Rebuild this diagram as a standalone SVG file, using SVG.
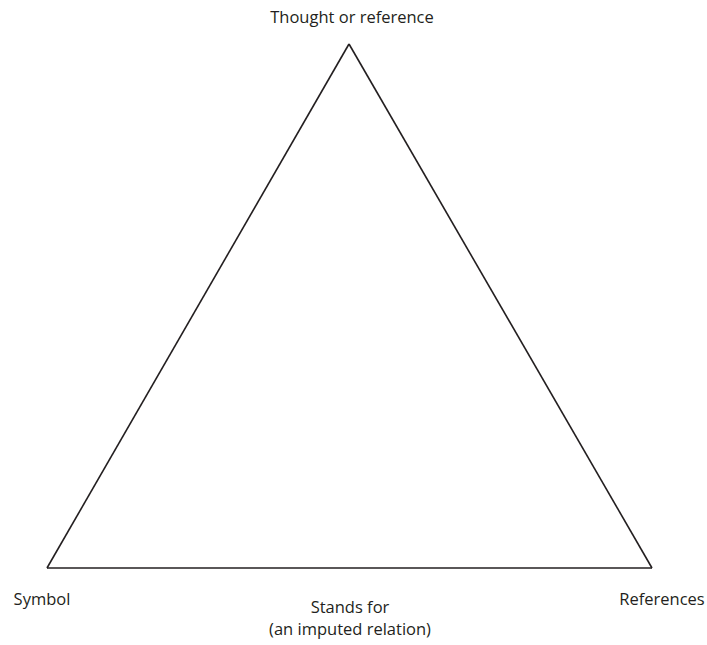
<svg xmlns="http://www.w3.org/2000/svg" width="707" height="645" viewBox="0 0 707 645">
<style>
text{font-family:"Open Sans","Noto Sans",sans-serif;font-size:16.5px;fill:#231f20}
.edge{fill:none;stroke:#231f20;stroke-width:1.6;stroke-linejoin:miter}
</style>
<rect width="707" height="645" fill="#fff"/>
<g id="connectors">
<path class="edge" d="M349,44 L47,568"/>
<path class="edge" d="M349,44 L652,568"/>
<path class="edge" d="M47,568 L652,568"/>
</g>
<g id="node-thought"><text x="352" y="23" text-anchor="middle">Thought or reference</text></g>
<g id="node-symbol"><text x="42" y="605" text-anchor="middle">Symbol</text></g>
<g id="node-references"><text x="662" y="605" text-anchor="middle">References</text></g>
<g id="node-standsfor"><text x="350" y="613" text-anchor="middle">Stands for</text><text x="350" y="635" text-anchor="middle">(an imputed relation)</text></g>
</svg>
